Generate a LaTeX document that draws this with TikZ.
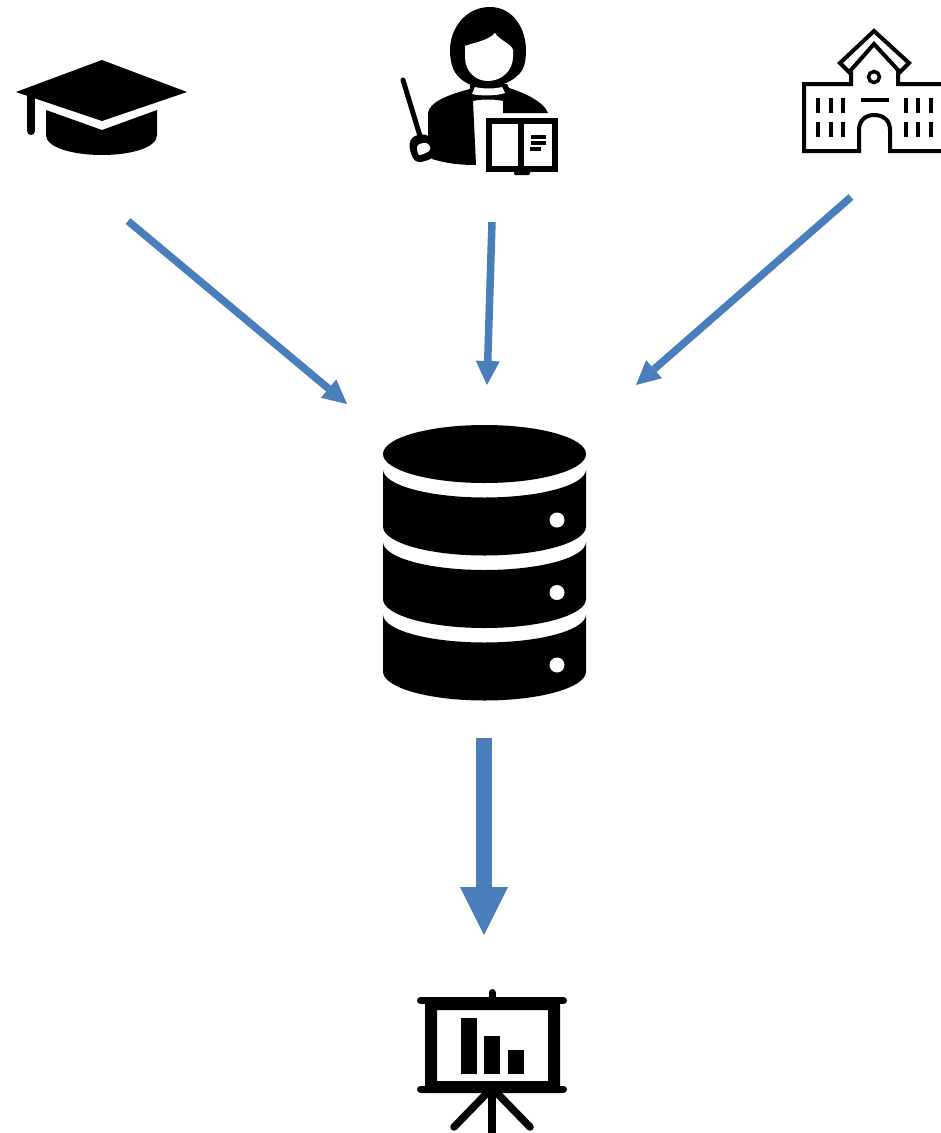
\documentclass[tikz,border=0pt]{standalone}
\usetikzlibrary{arrows.meta}
\definecolor{arrowblue}{HTML}{4A7EBB}
\tikzset{
  x=1pt,y=-1pt,
  flow/.style={draw=arrowblue,line width=7.5pt,-{Triangle[length=24pt,width=24pt,line width=0pt,fill=arrowblue]}},
  bigflow/.style={draw=arrowblue,line width=16pt,-{Triangle[length=48pt,width=48pt,line width=0pt,fill=arrowblue]}},
  icon/.style={fill=black,draw=none},
  iconline/.style={draw=black,line cap=round,line join=miter},
  gap/.style={fill=white,draw=none}
}
\begin{document}
\begin{tikzpicture}
\useasboundingbox (0,0) rectangle (941,1133);
% anchors for connectors
\coordinate (capout) at (128,221);
\coordinate (teachout) at (492,222);
\coordinate (schoolout) at (851,197);
\coordinate (dbin1) at (347,404);
\coordinate (dbin2) at (487,385);
\coordinate (dbin3) at (636,385);
\coordinate (dbout) at (484,738);
\coordinate (chartin) at (484,935);
\draw[flow] (capout) -- (dbin1);
\draw[flow] (teachout) -- (dbin2);
\draw[flow] (schoolout) -- (dbin3);
\draw[bigflow] (dbout) -- (chartin);
% graduation cap
\fill[icon] (16,92) -- (102,60) -- (187,92) -- (102,121) -- cycle;
\draw[iconline,line width=8pt] (31,96) -- (31,131);
\fill[icon] (46,110) -- (102,130) -- (157,110) -- (157,135) .. controls (157,148) and (130,155) .. (102,155) .. controls (74,155) and (46,148) .. (46,135) -- cycle;
% teacher
\fill[icon] (490,7) .. controls (514,7) and (526,30) .. (526,50) .. controls (526,62) and (524,70) .. (518,75) .. controls (512,81) and (505,84) .. (497,86) -- (473,86) .. controls (466,83) and (461,80) .. (457,75) .. controls (452,69) and (450,60) .. (450,50) .. controls (450,28) and (466,7) .. (490,7) -- cycle;
\fill[gap] (465,50) -- (465,46) .. controls (472,43) and (488,41) .. (495,33) .. controls (499,40) and (512,44) .. (513,50) -- (513,57) .. controls (513,71) and (501,81) .. (488,81) .. controls (475,81) and (465,71) .. (465,57) -- cycle;
\fill[icon] (470,84) -- (507,84) -- (509,88) .. controls (525,93) and (544,102) .. (548,113) -- (503,113) -- (503,101) .. controls (496,99) and (480,99) .. (473,101) -- (476,165) .. controls (458,165) and (445,163) .. (432,159) -- (428,152) -- (428,113) .. controls (429,102) and (450,94) .. (470,89) -- cycle;
\fill[gap] (475,87) .. controls (483,89) and (494,89) .. (502,87) -- (505,93) .. controls (497,96) and (480,96) .. (472,94) -- cycle;
\draw[iconline,line width=5pt] (403,80) -- (420,136);
\fill[icon] (415,136) .. controls (420,134) and (426,134) .. (428,136) .. controls (433,140) and (435,148) .. (435,152) .. controls (435,157) and (430,160) .. (425,161) .. controls (420,163) and (415,162) .. (413,158) .. controls (409,150) and (407,140) .. (415,136) -- cycle;
\fill[gap] (418,145) .. controls (421,143) and (426,142) .. (428,144) .. controls (431,147) and (431,150) .. (429,151) .. controls (426,153) and (422,155) .. (419,155) .. controls (417,152) and (416,147) .. (418,145) -- cycle;
\fill[icon] (486,118) rectangle (558,172);
\fill[gap] (492,124) rectangle (518,166);
\fill[gap] (524,124) rectangle (552,166);
\fill[icon] (514,172) -- (530,172) -- (530,173) .. controls (530,175) and (529,175) .. (528,175) -- (516,175) .. controls (515,175) and (514,175) .. (514,173) -- cycle;
\fill[icon] (531,135) rectangle (546,139);
\fill[icon] (531,141) rectangle (546,145);
\fill[icon] (530,147) rectangle (541,151);
% school
\draw[draw=black,line width=4pt,line join=miter] (941,84) -- (898,84) -- (898,70) -- (874,44) -- (851,70) -- (851,84) -- (804,84) -- (804,151) -- (859,151) -- (859,130) .. controls (859,120) and (866,115) .. (874,115) .. controls (883,115) and (890,120) .. (890,130) -- (890,151) -- (941,151);
\draw[draw=black,line width=4pt,line join=miter] (851,74) -- (840,63) -- (874,31) -- (909,63) -- (898,74);
\draw[draw=black,line width=3.5pt] (874,77) circle (5.5);
\draw[draw=black,line width=4pt] (861,100) -- (889,100);
\foreach \yy in {98,122}{
  \foreach \xx in {818,831,843,906,918,931}{
    \fill[icon] (\xx-2,\yy) rectangle (\xx+2,\yy+15);
  }
}
% database
\fill[icon] (383,454) arc[start angle=180,end angle=540,x radius=101.5,y radius=29];
\foreach \dy in {0,72.5,145}{
  \fill[icon] (383,{469.5+\dy}) arc[start angle=180,end angle=0,x radius=101.5,y radius=28] -- (586,{526.5+\dy}) arc[start angle=0,end angle=180,x radius=101.5,y radius=29] -- cycle;
  \fill[gap] (557,{520+\dy}) circle (7.5);
}
% chart
\fill[icon,even odd rule] (425,997) rectangle (560,1093) (437,1010) rectangle (548,1081);
\draw[iconline,line width=7pt] (420.5,1000.5) -- (563.5,1000.5);
\draw[iconline,line width=7pt] (420.5,1089) -- (563.5,1089);
\draw[iconline,line width=7pt] (492,992.5) -- (492,1000);
\fill[icon] (461,1018) rectangle (477,1074);
\fill[icon] (484,1036) rectangle (500,1074);
\fill[icon] (508,1050) rectangle (524,1074);
\draw[draw=black,line width=7.5pt] (492,1089) -- (492,1133);
\draw[iconline,line width=7.5pt] (489,1091) -- (454,1127);
\draw[iconline,line width=7.5pt] (495,1091) -- (530,1127);
\end{tikzpicture}
\end{document}
